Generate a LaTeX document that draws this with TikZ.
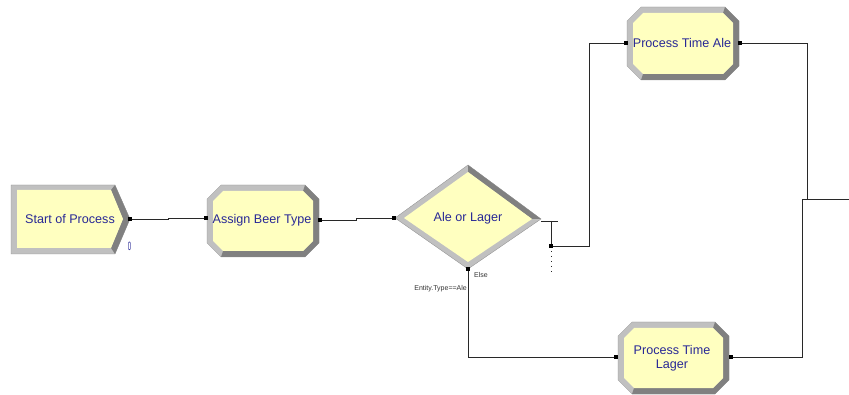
\documentclass[tikz,border=0pt]{standalone}
\usepackage{fontspec}
\newfontfamily\arialf{Liberation Sans}
\definecolor{bevlight}{RGB}{192,192,192}
\definecolor{bevdark}{RGB}{128,128,128}
\definecolor{modfill}{RGB}{255,255,192}
\definecolor{modtext}{RGB}{40,40,150}
\definecolor{conn}{RGB}{40,40,40}
\tikzset{
  modlabel/.style={font=\arialf\fontsize{12.6}{14}\selectfont, text=modtext, inner sep=0pt, align=center},
  smalllabel/.style={font=\arialf\fontsize{7}{7}\selectfont, text=black!80, inner sep=0pt},
  connector/.style={draw=conn, line width=0.9pt},
}
% bevelled process box: cx, cy, half width, half height
\newcommand\procbox[4]{%
  \begin{scope}[shift={(#1,#2)}]
    \fill[bevlight] (-#3+14,-#4) -- (#3-14,-#4) -- (#3,-#4+14) -- (#3,#4-14) -- (#3-14,#4) -- (-#3+14,#4) -- (-#3,#4-14) -- (-#3,-#4+14) -- cycle;
    \fill[bevdark] (#3-14,-#4) -- (#3,-#4+14) -- (#3,#4-14) -- (#3-14,#4) -- (-#3+14,#4)
       -- (-#3+16,#4-6) -- (#3-16,#4-6) -- (#3-6,#4-16) -- (#3-6,-#4+16) -- (#3-16,-#4+6) -- cycle;
    \fill[modfill] (-#3+16,-#4+6) -- (#3-16,-#4+6) -- (#3-6,-#4+16) -- (#3-6,#4-16) -- (#3-16,#4-6) -- (-#3+16,#4-6) -- (-#3+6,#4-16) -- (-#3+6,-#4+16) -- cycle;
    \draw[black!45, line width=0.3pt] (-#3+14,-#4) -- (#3-14,-#4) -- (#3,-#4+14) -- (#3,#4-14) -- (#3-14,#4) -- (-#3+14,#4) -- (-#3,#4-14) -- (-#3,-#4+14) -- cycle;
  \end{scope}}
\newcommand\portmark[1]{\fill[black] ($(#1)+(-1.6,-1.6)$) rectangle ($(#1)+(1.6,1.6)$);}
\usetikzlibrary{calc}
\begin{document}
\begin{tikzpicture}[x=1pt,y=-1pt]
\useasboundingbox (0,0) rectangle (849,395);
% ---- Start of Process (create module)
\fill[bevlight] (11,185) -- (115,185) -- (130,219) -- (115,254) -- (11,254) -- cycle;
\fill[bevdark] (115,185) -- (130,219) -- (115,254) -- (111,248) -- (123,219) -- (111,190) -- cycle;
\fill[modfill] (17,190) -- (111,190) -- (123,219) -- (111,248) -- (17,248) -- cycle;
\draw[black!45, line width=0.3pt] (11,185) -- (115,185) -- (130,219) -- (115,254) -- (11,254) -- cycle;
\node[modlabel] (start) at (70,219) {Start of Process};
\node[font=\arialf\fontsize{12}{12}\selectfont, text=modtext, inner sep=0pt, xscale=0.5] (count) at (129.5,246) {0};
% ---- Assign Beer Type
\procbox{263}{221}{56}{36}
\node[modlabel] (assign) at (262,220) {Assign Beer Type};
% ---- Decide
\fill[bevlight] (395,218) -- (468,165) -- (541,219) -- (468,269) -- cycle;
\fill[bevdark] (468,165) -- (541,219) -- (532,219) -- (468,172) -- cycle;
\fill[modfill] (404,218) -- (468,172) -- (532,219) -- (468,262) -- cycle;
\draw[black!45, line width=0.3pt] (395,218) -- (468,165) -- (541,219) -- (468,269) -- cycle;
\node[modlabel] (decide) at (468,218) {Ale or Lager};
% ---- Process Time Ale
\procbox{683}{43.5}{56}{36.5}
\node[modlabel] (ale) at (682,43) {Process Time Ale};
% ---- Process Time Lager
\procbox{673.5}{358}{55.5}{36}
\node[modlabel] (lager) at (672,358) {Process Time\\Lager};
% ---- ports
\coordinate (startout) at (130,219);
\coordinate (assignin) at (206,218);
\coordinate (assignout) at (320,220);
\coordinate (decidein) at (394,218);
\coordinate (decideright) at (541,221);
\coordinate (decidetrue) at (551,246);
\coordinate (decidebottom) at (468,269);
\coordinate (alein) at (626,43);
\coordinate (aleout) at (740,43);
\coordinate (lagerin) at (616,357);
\coordinate (lagerout) at (731,357);
\coordinate (junction) at (802,199);
\coordinate (offpage) at (849,199);
% ---- connectors
\draw[connector] (startout) -- (168,219) -- (168,218) -- (assignin);
\draw[connector] (assignout) -- (356,220) -- (356,218) -- (decidein);
\draw[connector] (decideright) -- (558,221);
\draw[connector] (551,221) -- (decidetrue);
\draw[connector] (decidetrue) -- (589,246) -- (589,43) -- (alein);
\draw[connector, line width=1pt, dash pattern=on 1.5pt off 3.5pt] (551,251) -- (551,273);
\draw[connector] (decidebottom) -- (468,357) -- (lagerin);
\draw[connector] (aleout) -- (807,43) -- (807,199);
\draw[connector] (offpage) -- (junction) -- (802,357) -- (lagerout);
\portmark{startout}
\portmark{assignin}
\portmark{assignout}
\portmark{decidein}
\portmark{decidetrue}
\portmark{decidebottom}
\portmark{alein}
\portmark{aleout}
\portmark{lagerin}
\portmark{lagerout}
% ---- branch labels
\node[smalllabel, anchor=west] (elselbl) at (474,275) {Else};
\node[smalllabel, anchor=east] (condlbl) at (467,289) {Entity.Type==Ale};
\end{tikzpicture}
\end{document}
